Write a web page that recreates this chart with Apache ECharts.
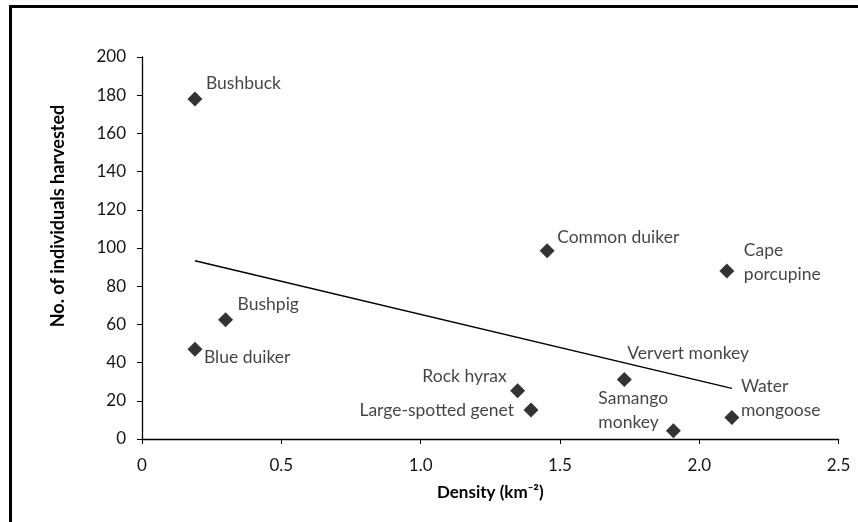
<!DOCTYPE html>
<html><head><meta charset="utf-8">
<script src="https://cdn.jsdelivr.net/npm/echarts@6/dist/echarts.min.js"></script>
<style>html,body{margin:0;padding:0;background:#fff}#c{width:858px;height:522px}</style>
</head><body><div id="c"></div>
<script>
const species = ["Bushbuck","Bushpig","Blue duiker","Common duiker","Cape\nporcupine","Rock hyrax","Large-spotted genet","Ververt monkey","Samango\nmonkey","Water\nmongoose"];
const density = [0.19, 0.30, 0.19, 1.454, 2.099, 1.348, 1.396, 1.731, 1.907, 2.117];
const harvested = [178, 62.4, 47, 98.6, 88, 25.2, 15.2, 31.2, 4.3, 11.2];
const trendX = [0.19, 2.117];
const trendY = [93.3, 26.5];
const xTicks = ["0","0.5","1.0","1.5","2.0","2.5"];

// label placement (style only)
const labelPos = [
  {align:'left', offset:[11,-16]},
  {align:'left', offset:[12,-15]},
  {align:'left', offset:[9,8]},
  {align:'left', offset:[10,-13]},
  {align:'left', offset:[17,-9]},
  {align:'right', offset:[-11,-15]},
  {align:'right', offset:[-17,0]},
  {align:'left', offset:[3,-26]},
  {align:'left', offset:[-75,-20]},
  {align:'left', offset:[9,-19]}
];
const font = 'Lato, "Open Sans", sans-serif';
const txt = '#141414';
const data = density.map((d,i)=>({
  value:[d, harvested[i]],
  name:species[i],
  label:{show:true, position:'inside', align:labelPos[i].align, verticalAlign:'middle', offset:labelPos[i].offset, formatter:'{b}', color:txt, fontSize:17.5, fontFamily:font, lineHeight:24}
}));
const chart = echarts.init(document.getElementById('c'), null, {renderer:'canvas'});
chart.setOption({
  animation:false,
  backgroundColor:'#fff',
  graphic:[{type:'rect', shape:{x:10.5,y:6.5,width:900,height:600}, style:{fill:null, stroke:'#000', lineWidth:3}}],
  grid:{left:142, right:19.4, top:57, bottom:83},
  xAxis:{type:'value', min:0, max:2.5, interval:0.5,
    name:'Density (km⁻²)', nameLocation:'middle', nameGap:45,
    nameTextStyle:{fontFamily:font, fontWeight:'bold', fontSize:17, color:'#000'},
    axisLine:{lineStyle:{color:'#000', width:1.3}},
    axisTick:{show:true, inside:false, length:5, lineStyle:{color:'#000'}},
    axisLabel:{fontFamily:font, fontSize:17, color:txt, margin:18, formatter:(v,i)=>xTicks[i]},
    splitLine:{show:false}},
  yAxis:{type:'value', min:0, max:200, interval:20,
    name:'No. of individuals harvested', nameLocation:'middle', nameGap:75, nameRotate:90,
    nameTextStyle:{fontFamily:font, fontWeight:'bold', fontSize:18, color:'#000', padding:[0,0,0,64]},
    axisLine:{show:true, lineStyle:{color:'#000', width:1.3}},
    axisTick:{show:true, length:5, lineStyle:{color:'#000'}},
    axisLabel:{fontFamily:font, fontSize:17, color:txt, margin:16},
    splitLine:{show:false}},
  series:[
    {type:'line', data:trendX.map((x,i)=>[x,trendY[i]]), showSymbol:false, symbol:'none',
     lineStyle:{color:'#000', width:1.5}, z:1, silent:true},
    {type:'scatter', data:data, symbol:'diamond', symbolSize:15, itemStyle:{color:'#000'}, z:3}
  ]
});
</script></body></html>
